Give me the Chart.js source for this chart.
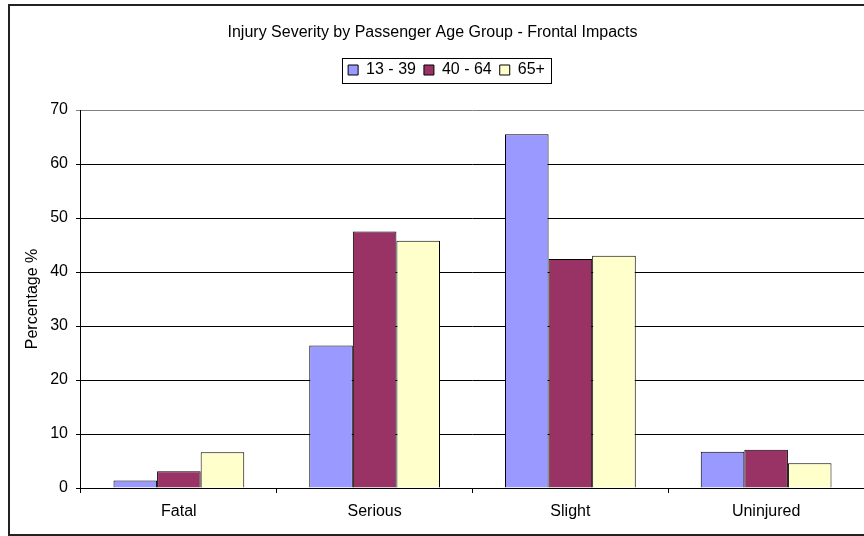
<!DOCTYPE html>
<html>
<head>
<meta charset="utf-8">
<style>
  html, body { margin: 0; padding: 0; background: #fff; }
  #wrap { width: 864px; height: 536px; }
</style>
<script src="https://cdn.jsdelivr.net/npm/chart.js"></script>
</head>
<body>
<div id="wrap"><canvas id="myChart" width="864" height="536"></canvas></div>
<script>
// data
const categories = ['Fatal', 'Serious', 'Slight', 'Uninjured'];
const ageGroups = ['13 - 39', '40 - 64', '65+'];
const young = [1.4, 26.4, 65.5, 6.7];
const middle = [3.1, 47.5, 42.4, 7.1];
const older = [6.6, 45.8, 43.0, 4.6];
const yTicks = [0, 10, 20, 30, 40, 50, 60, 70];

const colors = ['#9999FF', '#993366', '#FFFFCC'];
const FONT = "'Liberation Sans', Arial, sans-serif";

Chart.defaults.font.family = FONT;
Chart.defaults.font.size = 16;
Chart.defaults.color = '#000';

// white background, outer frame, frame round the legend
const framePlugin = {
  id: 'frame',
  beforeInit(chart) {
    const fit = chart.legend.fit;
    chart.legend.fit = function () {
      fit.call(chart.legend);
      this.height += 22;
    };
  },
  afterLayout(chart) {
    chart.legend.left += 14;
    chart.legend.right += 14;
  },
  beforeDraw(chart) {
    const ctx = chart.ctx;
    ctx.save();
    ctx.fillStyle = '#fff';
    ctx.fillRect(0, 0, chart.width, chart.height);
    ctx.restore();
  },
  afterDraw(chart) {
    const ctx = chart.ctx;
    ctx.save();
    ctx.strokeStyle = '#222';
    ctx.lineWidth = 2;
    ctx.strokeRect(9, 5, 900, 530);
    const hb = chart.legend.legendHitBoxes;
    if (hb && hb.length) {
      const first = hb[0], last = hb[hb.length - 1];
      const cy = first.top + first.height / 2;
      ctx.strokeStyle = '#000';
      ctx.lineWidth = 1;
      ctx.strokeRect(Math.round(first.left - 6) + 0.5, Math.round(cy - 12.5) + 0.5,
        Math.round(last.left + last.width - first.left + 12), 25);
    }
    ctx.restore();
  }
};

new Chart(document.getElementById('myChart'), {
  type: 'bar',
  data: {
    labels: categories,
    datasets: [
      { label: ageGroups[0], data: young, backgroundColor: colors[0] },
      { label: ageGroups[1], data: middle, backgroundColor: colors[1] },
      { label: ageGroups[2], data: older, backgroundColor: colors[2] }
    ]
  },
  options: {
    responsive: false,
    animation: false,
    devicePixelRatio: 1,
    datasets: {
      bar: {
        borderColor: '#000',
        borderWidth: 1,
        barPercentage: 1,
        categoryPercentage: 0.668
      }
    },
    layout: { padding: { left: 0, right: -1, top: 0, bottom: 5.8 } },
    plugins: {
      title: {
        display: true,
        text: 'Injury Severity by Passenger Age Group - Frontal Impacts',
        font: { size: 16, weight: 'normal' },
        color: '#000',
        padding: { top: 23.4, bottom: 11.4 }
      },
      legend: {
        display: true,
        position: 'top',
        labels: {
          boxWidth: 10,
          boxHeight: 10,
          padding: 8,
          color: '#000',
          font: { size: 16 }
        }
      },
      tooltip: { enabled: false }
    },
    scales: {
      x: {
        grid: {
          display: true,
          drawOnChartArea: false,
          drawTicks: true,
          tickLength: 5,
          color: '#000',
          offset: true
        },
        border: { display: true, color: '#000', width: 1 },
        ticks: { padding: 9, color: '#000', font: { size: 16 } }
      },
      y: {
        min: 0,
        max: 70,
        afterBuildTicks(scale) {
          scale.ticks = yTicks.map(v => ({ value: v }));
        },
        grid: {
          color: ctx => (ctx.tick && ctx.tick.value === 70) ? '#808080' : '#000',
          tickLength: 5,
          drawTicks: true
        },
        border: { display: true, color: '#000', width: 1 },
        ticks: { padding: 8, color: '#000', font: { size: 16 } },
        title: {
          display: true,
          text: 'Percentage %',
          color: '#000',
          font: { size: 16 },
          padding: { top: 23, bottom: 0 }
        }
      }
    }
  },
  plugins: [framePlugin]
});
</script>
</body>
</html>
